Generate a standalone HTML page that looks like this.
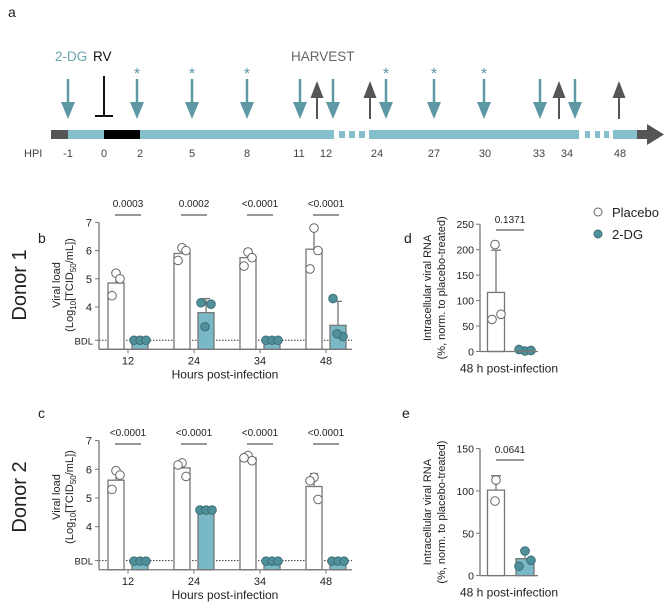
<!DOCTYPE html>
<html><head><meta charset="utf-8"><style>
html,body{margin:0;padding:0;background:#fff;}
svg{display:block;font-family:"Liberation Sans",Arial,sans-serif;}
</style></head><body>
<svg id="fig" width="669" height="604" viewBox="0 0 669 604">
<g id="timeline">
<text x="8" y="17" font-size="14" fill="#222">a</text>
<text x="55" y="61" font-size="13.5" fill="#6aa3ae">2-DG</text>
<text x="93" y="61" font-size="13.5" fill="#111">RV</text>
<text x="291" y="61" font-size="13.5" fill="#666">HARVEST</text>
<rect x="51" y="130" width="17" height="9" fill="#555"/>
<rect x="68" y="130" width="36" height="9" fill="#86bfcc"/>
<rect x="104" y="130" width="36" height="9" fill="#000"/>
<rect x="140" y="130" width="194" height="9" fill="#86bfcc"/>
<rect x="339" y="131" width="6" height="7" fill="#86bfcc"/>
<rect x="349" y="131" width="6" height="7" fill="#86bfcc"/>
<rect x="359" y="131" width="6" height="7" fill="#86bfcc"/>
<rect x="369" y="130" width="210" height="9" fill="#86bfcc"/>
<rect x="585" y="131" width="5" height="7" fill="#86bfcc"/>
<rect x="595" y="131" width="5" height="7" fill="#86bfcc"/>
<rect x="604" y="131" width="5" height="7" fill="#86bfcc"/>
<rect x="613" y="130" width="24" height="9" fill="#86bfcc"/>
<rect x="637" y="130" width="12" height="9" fill="#555"/>
<polygon points="647,124 664,134.5 647,145" fill="#555"/>
<line x1="104" y1="76" x2="104" y2="116" stroke="#111" stroke-width="2"/>
<line x1="95" y1="116" x2="113" y2="116" stroke="#111" stroke-width="2"/>
<text x="24" y="157" font-size="11" fill="#444">HPI</text>
</g>
<g id="charts"></g>
</svg>
<script>
const NS="http://www.w3.org/2000/svg";
const TEAL="#79b8c6", DOT="#4f8f99", ARROW="#5e98a4", GREY="#777";
// ----- timeline data -----
const hpiLabels=["-1","0","2","5","8","11","12","24","27","30","33","34","48"];
const hpiX=[68,104,140,192,247,299,326,377,434,485,539,567,620];
const doseX=[68,137,192,247,300,333,386,434,484,540,575];
const doseStar=[false,true,true,true,false,false,true,true,true,false,false];
const harvestX=[317,370,559,619];
// ----- panel b -----
const cats=["12","24","34","48"];
const bPlacMean=[4.85,5.9,5.75,6.05];
const bPlacErr=[5.2,6.1,6.05,6.75];
const bPlacPts=[[5.2,5.0,4.4],[6.1,6.0,5.65],[5.95,5.75,5.45],[6.8,6.0,5.35]];
const bDgMean=[2.82,3.8,2.82,3.35];
const bDgErr=[null,4.3,null,4.2];
const bDgPts=[[2.82,2.82,2.82],[4.15,4.1,3.3],[2.82,2.82,2.82],[4.3,2.95,3.05]];
const bP=["0.0003","0.0002","<0.0001","<0.0001"];
// ----- panel c -----
const cPlacMean=[5.62,6.05,6.4,5.4];
const cPlacErr=[6.0,6.25,6.5,5.85];
const cPlacPts=[[5.95,5.8,5.3],[6.22,5.75,6.15],[6.48,6.3,6.4],[5.72,4.95,5.6]];
const cDgMean=[2.8,4.58,2.8,2.8];
const cDgErr=[null,null,null,null];
const cDgPts=[[2.8,2.8,2.8],[4.58,4.58,4.58],[2.8,2.8,2.8],[2.8,2.8,2.8]];
const cP=["<0.0001","<0.0001","<0.0001","<0.0001"];
const vlTicks=[4,5,6,7];
// ----- panel d/e -----
const dPlac=[116,199], dPlacPts=[210,63,73];
const dDg=[2.5,null], dDgPts=[1,4,2];
const dTicks=[0,50,100,150,200,250];
const ePlac=[101,118], ePlacPts=[113,88];
const eDg=[20,30], eDgPts=[29,11,18];
const eTicks=[0,50,100,150];

const root=document.getElementById('charts');
function mk(tag,attrs,parent){const e=document.createElementNS(NS,tag);for(const k in attrs)e.setAttribute(k,attrs[k]);(parent||root).appendChild(e);return e;}
function txt(x,y,s,size,anchor,fill,parent){const t=mk('text',{x:x,y:y,'font-size':size,'text-anchor':anchor||'middle',fill:fill||'#222'},parent);t.textContent=s;return t;}

// timeline
const tl=document.getElementById('timeline');
hpiLabels.forEach((l,i)=>{const t=txt(hpiX[i],157,l,11,'middle','#444',tl);

});
doseX.forEach((x,i)=>{const g=mk('g',{},tl);


mk('line',{x1:x,y1:79,x2:x,y2:105,stroke:ARROW,'stroke-width':2.5},g);
mk('polygon',{points:`${x-7},102 ${x+7},102 ${x},119`,fill:ARROW},g);
if(doseStar[i])txt(x,79,'*',16,'middle',ARROW,g);});
harvestX.forEach(x=>{const g=mk('g',{},tl);


mk('polygon',{points:`${x-6.5},98 ${x+6.5},98 ${x},81`,fill:'#555'},g);
mk('line',{x1:x,y1:96,x2:x,y2:119,stroke:'#555','stroke-width':2},g);});

function dot(x,y,fill,g){const c=mk('circle',{cx:x,cy:y,r:4.3,fill:fill,stroke:fill==='#fff'?'#666':'#3d6f77','stroke-width':1},g);

}

function viralPanel(o){
  const g=mk('g',{});
  
  
  const yS=v=>o.y4-(v-4)*o.unit;
  const catX=[128,194,260,326];
  const ax=99, bottom=yS(2.5);
  txt(o.labelX,o.labelY,o.label,14,'start','#222',g);
  const d=txt(0,0,o.donor,20,'middle','#222',g);d.setAttribute('transform',`translate(26,${o.yMid}) rotate(-90)`);
  
  const t1=txt(0,0,'Viral load',11,'middle','#222',g);t1.setAttribute('transform',`translate(60,${o.yMid}) rotate(-90)`);
  const t2=mk('text',{'font-size':11,'text-anchor':'middle',fill:'#222',transform:`translate(73,${o.yMid}) rotate(-90)`},g);
  t2.innerHTML='(Log<tspan font-size="8" dy="3">10</tspan><tspan dy="-3">[TCID</tspan><tspan font-size="8" dy="3">50</tspan><tspan dy="-3">/mL])</tspan>';
  
  const yb=yS(o.bdl);
  mk('line',{x1:ax,y1:yb,x2:352,y2:yb,stroke:'#333','stroke-width':1,'stroke-dasharray':'1.5,1.5'},g);
  txt(ax-6,yb+4,'BDL',9.5,'end','#222',g);
  mk('line',{x1:ax-4,y1:yb,x2:ax,y2:yb,stroke:GREY},g);
  cats.forEach((c,i)=>{
    const x=catX[i];
    const pm=yS(o.pm[i]);
    const b1=mk('rect',{x:x-20,y:pm,width:16,height:bottom-pm,fill:'#fff',stroke:GREY,'stroke-width':1.3},g);
    
    
    mk('line',{x1:x-12,y1:pm,x2:x-12,y2:yS(o.pe[i]),stroke:GREY,'stroke-width':1.3},g);
    mk('line',{x1:x-16,y1:yS(o.pe[i]),x2:x-8,y2:yS(o.pe[i]),stroke:GREY,'stroke-width':1.3},g);
    const off=[0,4,-4];
    o.pp[i].forEach((v,j)=>dot(x-12+off[j],yS(v),'#fff',g));
    const dm=yS(o.dm[i]);
    const b2=mk('rect',{x:x+4,y:dm,width:16,height:bottom-dm,fill:TEAL,stroke:GREY,'stroke-width':1.3},g);
    
    
    if(o.de[i]!==null){mk('line',{x1:x+12,y1:dm,x2:x+12,y2:yS(o.de[i]),stroke:GREY,'stroke-width':1.3},g);
      mk('line',{x1:x+8,y1:yS(o.de[i]),x2:x+16,y2:yS(o.de[i]),stroke:GREY,'stroke-width':1.3},g);}
    const flat=o.dp[i].every(v=>v===o.dp[i][0]);
    const off2=flat?[-6,0,6]:[-5,5,-1];
    o.dp[i].forEach((v,j)=>dot(x+12+off2[j],yS(v),DOT,g));
    mk('line',{x1:x,y1:bottom,x2:x,y2:bottom+4,stroke:GREY},g);
    const xl=txt(x,bottom+15,c,11,'middle','#222',g);
    
    const pl=txt(x,o.pY,o.pv[i],10,'middle','#222',g);
    
    mk('line',{x1:x-13,y1:o.pY+8,x2:x+13,y2:o.pY+8,stroke:'#333'},g);
  });
  mk('line',{x1:ax,y1:yS(7),x2:ax,y2:bottom,stroke:GREY,'stroke-width':1.3},g);
  mk('line',{x1:ax,y1:bottom,x2:352,y2:bottom,stroke:GREY,'stroke-width':1.3},g);
  vlTicks.forEach(v=>{mk('line',{x1:ax-4,y1:yS(v),x2:ax,y2:yS(v),stroke:GREY},g);txt(ax-7,yS(v)+4,String(v),11,'end','#222',g);});
  const xt=txt(225,bottom+29,'Hours post-infection',12,'middle','#222',g);
  
}
viralPanel({name:'panel-b',label:'b',labelX:38,labelY:243,donor:'Donor 1',yMid:285,y4:307,unit:28.2,bdl:2.82,pm:bPlacMean,pe:bPlacErr,pp:bPlacPts,dm:bDgMean,de:bDgErr,dp:bDgPts,pv:bP,pY:207});
viralPanel({name:'panel-c',label:'c',labelX:38,labelY:418,donor:'Donor 2',yMid:497,y4:526.7,unit:28.7,bdl:2.82,pm:cPlacMean,pe:cPlacErr,pp:cPlacPts,dm:cDgMean,de:cDgErr,dp:cDgPts,pv:cP,pY:436});

function rnaPanel(o){
  const g=mk('g',{});
  
  
  const max=o.ticks[o.ticks.length-1];
  const yS=v=>o.y0-v/max*o.h;
  const ax=480;
  txt(o.labelX,o.labelY,o.label,14,'start','#222',g);
  const ym=o.y0-o.h/2;
  const a1=txt(0,0,'Intracellular viral RNA',11,'middle','#222',g);a1.setAttribute('transform',`translate(431,${ym}) rotate(-90)`);
  
  const a2=txt(0,0,'(%, norm. to placebo-treated)',11,'middle','#222',g);a2.setAttribute('transform',`translate(445,${ym}) rotate(-90)`);
  const px=496, dx=525;
  const pm=yS(o.plac[0]);
  const b1=mk('rect',{x:px-8.5,y:pm,width:17,height:o.y0-pm,fill:'#fff',stroke:GREY,'stroke-width':1.3},g);
  
  
  mk('line',{x1:px,y1:pm,x2:px,y2:yS(o.plac[1]),stroke:GREY,'stroke-width':1.3},g);
  mk('line',{x1:px-5,y1:yS(o.plac[1]),x2:px+5,y2:yS(o.plac[1]),stroke:GREY,'stroke-width':1.3},g);
  const offP=o.pp.length===3?[-1,-4,5]:[0,-1];
  o.pp.forEach((v,j)=>dot(px+offP[j],yS(v),'#fff',g));
  const dm=yS(o.dg[0]);
  const b2=mk('rect',{x:dx-9,y:dm,width:18,height:o.y0-dm,fill:TEAL,stroke:GREY,'stroke-width':1.3},g);
  
  
  if(o.dg[1]!==null){mk('line',{x1:dx,y1:dm,x2:dx,y2:yS(o.dg[1]),stroke:GREY,'stroke-width':1.3},g);
    mk('line',{x1:dx-5,y1:yS(o.dg[1]),x2:dx+5,y2:yS(o.dg[1]),stroke:GREY,'stroke-width':1.3},g);}
  o.dp.forEach((v,j)=>dot(dx+[0,-6,6][j],yS(v),DOT,g));
  mk('line',{x1:ax,y1:yS(max),x2:ax,y2:o.y0,stroke:GREY,'stroke-width':1.3},g);
  mk('line',{x1:ax,y1:o.y0,x2:538,y2:o.y0,stroke:GREY,'stroke-width':1.3},g);
  o.ticks.forEach(v=>{mk('line',{x1:ax-4,y1:yS(v),x2:ax,y2:yS(v),stroke:GREY},g);txt(ax-6,yS(v)+4,String(v),10.5,'end','#222',g);});
  const pl=txt(510,o.pY,o.p,10,'middle','#222',g);
  
  mk('line',{x1:496,y1:o.pY+7,x2:524,y2:o.pY+7,stroke:'#333'},g);
  const xt=txt(509,o.y0+21,'48 h post-infection',12,'middle','#222',g);
  
}
rnaPanel({name:'panel-d',label:'d',labelX:404,labelY:243,y0:351.5,h:127.3,ticks:dTicks,plac:dPlac,pp:dPlacPts,dg:dDg,dp:dDgPts,p:'0.1371',pY:223});
rnaPanel({name:'panel-e',label:'e',labelX:402,labelY:418,y0:575.6,h:127,ticks:eTicks,plac:ePlac,pp:ePlacPts,dg:eDg,dp:eDgPts,p:'0.0641',pY:453});

const lg=mk('g',{});


const l1=mk('circle',{cx:598,cy:212,r:4,fill:'#fff',stroke:'#666'},lg);

const lt1=txt(612,217,'Placebo',13,'start','#222',lg);

const l2=mk('circle',{cx:598,cy:234,r:4,fill:DOT,stroke:'#3d6f77'},lg);

const lt2=txt(612,239,'2-DG',13,'start','#222',lg);

</script>
</body></html>
